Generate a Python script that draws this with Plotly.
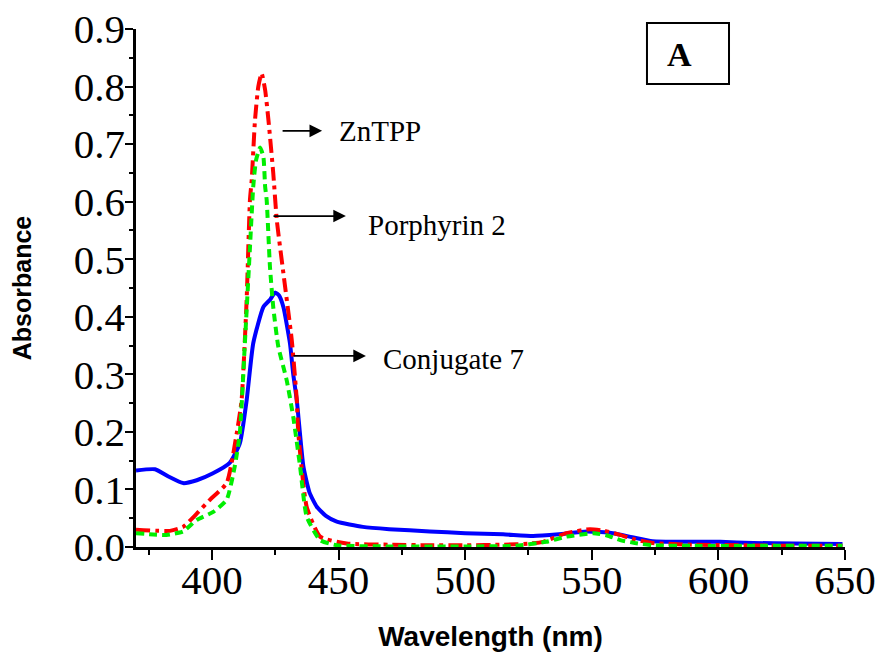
import plotly.graph_objects as go

# Conjugate 7 (blue, solid)
conj_x = [370, 377.5, 383, 388.6, 394, 400.4, 407, 411, 413.7, 416.3, 420.3, 423, 424.9, 426.5, 428.2, 430.8, 432.1, 433.5, 436.1, 438.5, 441.4, 445, 449.3, 459.6, 470, 486, 500, 515, 526.8, 537, 548, 558.4, 566, 574, 587, 600.7, 613.7, 630, 649]
conj_y = [0.133, 0.135, 0.122, 0.111, 0.116, 0.128, 0.146, 0.18, 0.255, 0.354, 0.417, 0.43, 0.442, 0.437, 0.417, 0.354, 0.30, 0.255, 0.14, 0.095, 0.07, 0.054, 0.044, 0.035, 0.031, 0.027, 0.024, 0.022, 0.019, 0.022, 0.027, 0.024, 0.017, 0.010, 0.009, 0.009, 0.007, 0.006, 0.005]

# ZnTPP (red, dash-dot)
zn_x = [370, 383.4, 388.6, 394, 399.2, 405.8, 409.8, 411.7, 413.7, 415, 415.7, 417, 418.3, 419.6, 421, 422.3, 424.2, 425.6, 428.2, 431.5, 433.5, 434.1, 437.4, 442.7, 453.2, 470, 486, 500, 515, 525.6, 530.8, 540, 549.3, 555, 561.2, 567, 574, 590, 610, 630, 649]
zn_y = [0.030, 0.028, 0.035, 0.058, 0.082, 0.111, 0.198, 0.255, 0.43, 0.603, 0.638, 0.742, 0.80, 0.823, 0.794, 0.742, 0.65, 0.568, 0.476, 0.36, 0.255, 0.198, 0.07, 0.018, 0.006, 0.004, 0.003, 0.003, 0.004, 0.006, 0.009, 0.024, 0.031, 0.028, 0.021, 0.013, 0.007, 0.004, 0.003, 0.002, 0.002]

# Porphyrin 2 (green, dotted)
por_x = [370, 382, 388.6, 394, 400.5, 405.8, 409, 411, 413, 415, 416.3, 417.4, 419, 420.3, 421, 421.6, 422.9, 424.2, 426.2, 429.5, 432.1, 434.8, 437.4, 442.7, 449.3, 470, 500, 520, 532, 540, 550.6, 556, 561.2, 567, 574, 590, 620, 649]
por_y = [0.024, 0.021, 0.027, 0.047, 0.061, 0.082, 0.14, 0.198, 0.354, 0.52, 0.626, 0.672, 0.694, 0.678, 0.626, 0.603, 0.487, 0.417, 0.348, 0.29, 0.226, 0.14, 0.053, 0.012, 0.003, 0.001, 0.001, 0.002, 0.009, 0.018, 0.024, 0.020, 0.012, 0.007, 0.003, 0.002, 0.002, 0.002]

x_ticks = [400, 450, 500, 550, 600, 650]
y_ticks = [0.0, 0.1, 0.2, 0.3, 0.4, 0.5, 0.6, 0.7, 0.8, 0.9]
y_tick_labels = ["0.0", "0.1", "0.2", "0.3", "0.4", "0.5", "0.6", "0.7", "0.8", "0.9"]

fig = go.Figure()
fig.add_trace(go.Scatter(x=conj_x, y=conj_y, mode="lines", name="Conjugate 7",
                         line=dict(color="#0000ff", width=4, shape="spline", smoothing=0.5)))
fig.add_trace(go.Scatter(x=zn_x, y=zn_y, mode="lines", name="ZnTPP",
                         line=dict(color="#ff0000", width=4, dash="14px,5px,4px,5px", shape="spline", smoothing=0.5)))
fig.add_trace(go.Scatter(x=por_x, y=por_y, mode="lines", name="Porphyrin 2",
                         line=dict(color="#00ee00", width=4, dash="8px,5px", shape="spline", smoothing=0.5)))

serif = "Liberation Serif, Times New Roman, serif"
sans = "Liberation Sans, Arial, sans-serif"
label_font = dict(family=serif, size=29, color="black")

annots = [
    ("ZnTPP", 427.3, 443.5, 0.723, 449.5, 0.722),
    ("Porphyrin 2", 423.7, 452.9, 0.575, 460.9, 0.559),
    ("Conjugate 7", 431.6, 460.8, 0.332, 466.9, 0.327),
]
for text, x0, x1, ya, tx, ty in annots:
    fig.add_annotation(x=x1, y=ya, ax=x0, ay=ya, xref="x", yref="y", axref="x", ayref="y",
                       text="", showarrow=True, arrowhead=2, arrowsize=1.4, arrowwidth=1.8, arrowcolor="black")
    fig.add_annotation(x=tx, y=ty, xref="x", yref="y", text=text, showarrow=False,
                       xanchor="left", yanchor="middle", font=label_font)

fig.add_shape(type="rect", xref="paper", yref="paper", x0=0.7207, x1=0.8364, y0=0.8938, y1=1.0116,
              line=dict(color="black", width=2))
fig.add_annotation(x=0.766, y=0.951, xref="paper", yref="paper", text="<b>A</b>", showarrow=False,
                   xanchor="center", yanchor="middle",
                   font=dict(family=serif, size=34, color="black"))

fig.update_layout(
    width=881, height=652,
    margin=dict(l=136, r=36, t=29, b=105),
    plot_bgcolor="white", paper_bgcolor="white",
    showlegend=False,
    xaxis=dict(range=[370, 650], tickvals=x_ticks, ticktext=[str(v) for v in x_ticks],
               automargin=False, ticklabelstandoff=-15,
               showgrid=False, zeroline=False, showline=True, linecolor="black", linewidth=2.5,
               ticks="outside", ticklen=10, tickwidth=2, tickcolor="black",
               minor=dict(dtick=25, tick0=375, ticks="outside", ticklen=5, tickwidth=2, tickcolor="black"),
               tickfont=dict(family=serif, size=41, color="black"),
               title=dict(text="<b>Wavelength (nm)</b>", font=dict(family=sans, size=28, color="black"), standoff=25)),
    yaxis=dict(range=[0, 0.9], tickvals=y_ticks, ticktext=y_tick_labels,
               automargin=False, ticklabelstandoff=-8,
               showgrid=False, zeroline=False, showline=True, linecolor="black", linewidth=2.5,
               ticks="outside", ticklen=8, tickwidth=2, tickcolor="black",
               minor=dict(dtick=0.05, tick0=0.05, ticks="outside", ticklen=4, tickwidth=2, tickcolor="black"),
               tickfont=dict(family=serif, size=41, color="black"),
               title=dict(text="<b>Absorbance</b>", font=dict(family=sans, size=25, color="black"), standoff=36)),
)

fig.write_html("out.html", config={"displayModeBar": False},
               post_script="document.body.style.margin='0';document.body.style.overflow='hidden';")
